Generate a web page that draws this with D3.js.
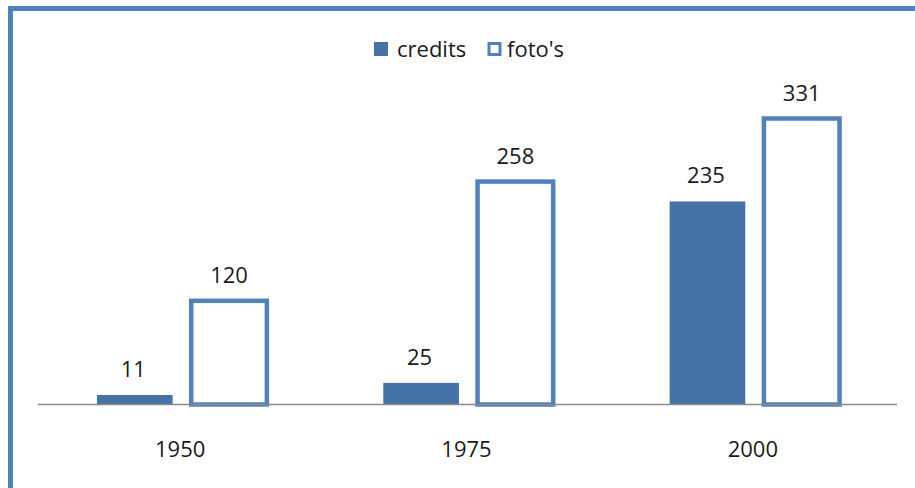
<!DOCTYPE html>
<html>
<head>
<meta charset="utf-8">
<script src="https://cdn.jsdelivr.net/npm/d3@7"></script>
<style>
  body { margin: 0; background: #fff; }
  svg text { font-family: "Open Sans", "Liberation Sans", sans-serif; fill: #1a1a1a; }
</style>
</head>
<body>
<div id="chart"></div>
<script>
var years = ["1950", "1975", "2000"];
var seriesNames = ["credits", "foto's"];
var credits = [11, 25, 235];
var fotos = [120, 258, 331];

var w = 915, h = 488;
var svg = d3.select("#chart").append("svg").attr("width", w).attr("height", h);

// outer frame (runs off right/bottom)
svg.append("rect")
  .attr("x", 10.5).attr("y", 8.5)
  .attr("width", w + 20).attr("height", h + 20)
  .attr("fill", "none")
  .attr("stroke", "#4f81bd")
  .attr("stroke-width", 5);

var x0 = d3.scaleBand().domain(years).range([38, 897]);
var x1 = d3.scaleBand().domain(seriesNames)
  .range([0, x0.bandwidth()])
  .paddingInner(0.21).paddingOuter(0.6);
var y = d3.scaleLinear().domain([0, 331]).range([404.5, 118.5]);

var rows = years.map(function (yr, i) {
  return { year: yr, values: [
    { name: "credits", v: credits[i] },
    { name: "foto's", v: fotos[i] }
  ] };
});

var groups = svg.selectAll("g.grp").data(rows).enter().append("g")
  .attr("class", "grp")
  .attr("transform", function (d) { return "translate(" + x0(d.year) + ",0)"; });

groups.each(function (d) {
  var g = d3.select(this);
  d.values.forEach(function (s) {
    if (s.name === "credits") {
      g.append("rect")
        .attr("x", x1(s.name) + 1.5)
        .attr("y", y(s.v))
        .attr("width", x1.bandwidth())
        .attr("height", y(0) - y(s.v))
        .attr("fill", "#4572a7");
    } else {
      g.append("rect")
        .attr("x", x1(s.name))
        .attr("y", y(s.v))
        .attr("width", x1.bandwidth())
        .attr("height", y(0) - y(s.v))
        .attr("fill", "#fff")
        .attr("stroke", "#4f81bd")
        .attr("stroke-width", 4.5);
    }
    g.append("text")
      .attr("x", x1(s.name) + x1.bandwidth() / 2)
      .attr("y", y(s.v) - 18)
      .attr("text-anchor", "middle")
      .attr("font-size", 22)
      .text(s.v);
  });
});

// category axis
svg.append("line")
  .attr("x1", 38).attr("x2", 897)
  .attr("y1", 404.5).attr("y2", 404.5)
  .attr("stroke", "#8a8a8a").attr("stroke-width", 1.5);

svg.selectAll("text.cat").data(years).enter().append("text")
  .attr("class", "cat")
  .attr("x", function (d) { return x0(d) + x0.bandwidth() / 2 - 1; })
  .attr("y", 457)
  .attr("text-anchor", "middle")
  .attr("font-size", 22)
  .text(function (d) { return d; });

// legend
var legend = svg.append("g").attr("transform", "translate(374,42)");
legend.append("rect")
  .attr("x", 0).attr("y", 0).attr("width", 14).attr("height", 14)
  .attr("fill", "#4572a7");
legend.append("text").attr("x", 23).attr("y", 15).attr("font-size", 22).text(seriesNames[0]);
legend.append("rect")
  .attr("x", 115).attr("y", 1.5).attr("width", 11).attr("height", 11)
  .attr("fill", "#fff").attr("stroke", "#4f81bd").attr("stroke-width", 3);
legend.append("text").attr("x", 133).attr("y", 15).attr("font-size", 22).text(seriesNames[1]);
</script>
</body>
</html>
